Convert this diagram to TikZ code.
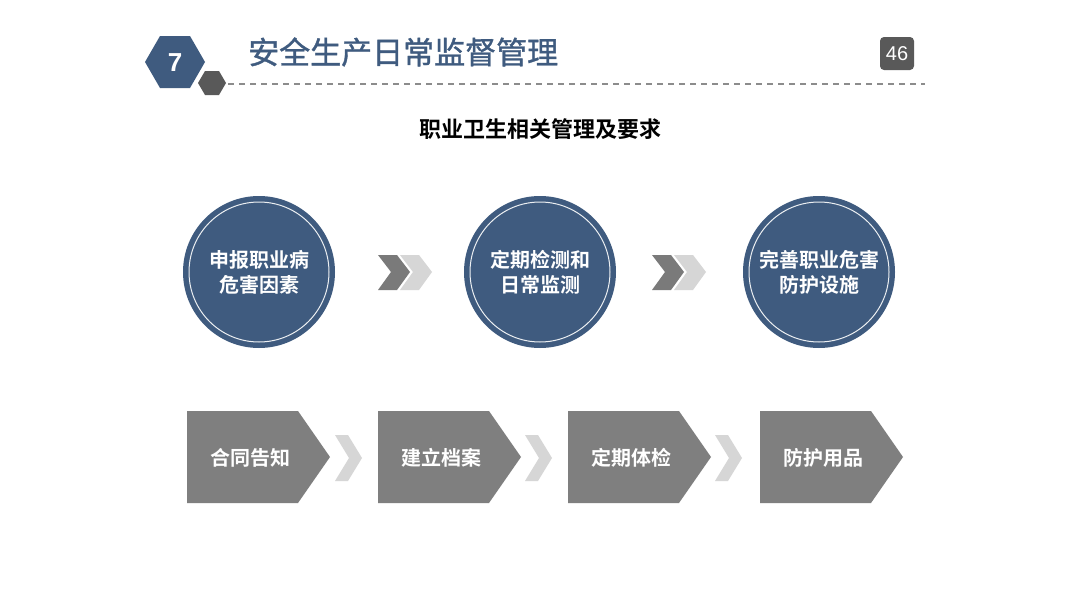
\documentclass[tikz,border=0pt]{standalone}
\usepackage{fontspec}
\setmainfont{Liberation Sans}
\newfontfamily\cjk{Noto Sans CJK SC}[FakeBold=1.2]
\newfontfamily\cjkb{Noto Sans CJK SC}[BoldFont={* Bold}]
\definecolor{navy}{HTML}{3F5B7F}
\definecolor{dgray}{HTML}{595959}
\definecolor{midgray}{HTML}{7F7F7F}
\definecolor{chevdark}{HTML}{7A7A7A}
\definecolor{chevlight}{HTML}{D6D6D6}
\tikzset{
  circ/.style={circle, fill=navy, minimum size=152pt, inner sep=0pt},
  circtext/.style={text=white, font=\cjkb\bfseries\fontsize{20}{25}\selectfont, align=center},
  pentext/.style={text=white, font=\cjkb\bfseries\fontsize{20}{24}\selectfont},
}
\begin{document}
\begin{tikzpicture}[x=1pt,y=-1pt]
\useasboundingbox (0,0) rectangle (1080,608);
\fill[white] (0,0) rectangle (1080,608);
% header hexagons
\fill[navy] (145,62) -- (160,36) -- (190,36) -- (205,62) -- (190,88) -- (160,88) -- cycle;
\node[text=white, font=\bfseries\fontsize{26}{30}\selectfont] (num) at (175,63) {7};
\fill[dgray] (198,83) -- (205,71) -- (219,71) -- (226,83) -- (219,95) -- (205,95) -- cycle;
\coordinate (dl) at (228,84);
\coordinate (dr) at (925,84);
\draw[color=gray!90, line width=1.4pt, dash pattern=on 6pt off 5pt] (dl) -- (dr);
\node[anchor=west, text=navy, font=\cjk\fontsize{31}{34}\selectfont, inner sep=0pt] (title) at (248,52) {安全生产日常监督管理};
% page number
\fill[dgray, rounded corners=4pt] (880,37) rectangle (914,70);
\node[text=white, font=\fontsize{20}{24}\selectfont] (page) at (897,54) {46};
% subtitle
\node[font=\cjkb\bfseries\fontsize{22}{26}\selectfont] (sub) at (540,129) {职业卫生相关管理及要求};
% circles
\foreach \n/\x/\t in {c1/259/{申报职业病\\危害因素}, c2/540/{定期检测和\\日常监测}, c3/819/{完善职业危害\\防护设施}}{
  \node[circ] (\n) at (\x,272) {};
  \draw[white!90!navy, line width=1pt] (\n.center) circle (70);
  \node[circtext] at (\x,272) {\t};
}
% double chevrons
\foreach \x in {378,652}{
  \fill[chevdark] (\x,255) -- ++(19,0) -- ++(13,17) -- ++(-13,18) -- ++(-19,0) -- ++(13,-18) -- cycle;
  \fill[chevlight] (\x+22,255) -- ++(19,0) -- ++(13,17) -- ++(-13,18) -- ++(-19,0) -- ++(13,-18) -- cycle;
}
% pentagons
\foreach \n/\x/\t in {p1/187/合同告知, p2/378/建立档案, p3/568/定期体检, p4/760/防护用品}{
  \fill[midgray] (\x,411) -- ++(111,0) -- ++(32,46) -- ++(-32,46) -- ++(-111,0) -- cycle;
  \node[pentext] (\n) at (\x+63,458) {\t};
}
% light chevrons
\foreach \x in {335,525,715}{
  \fill[chevlight] (\x,435) -- ++(13,0) -- ++(14,23) -- ++(-14,23) -- ++(-13,0) -- ++(14,-23) -- cycle;
}
\end{tikzpicture}
\end{document}
